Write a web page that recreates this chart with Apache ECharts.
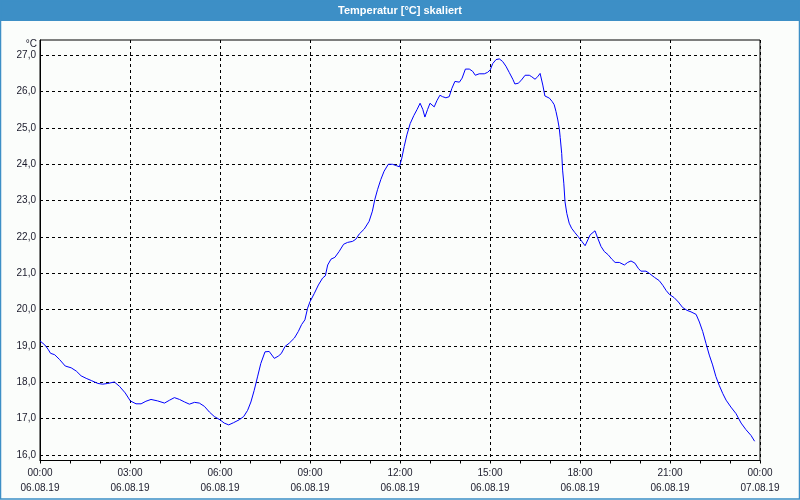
<!DOCTYPE html>
<html>
<head>
<meta charset="utf-8">
<script src="https://cdn.jsdelivr.net/npm/echarts@6/dist/echarts.min.js"></script>
<style>
html,body{margin:0;padding:0;background:#fbfdfb;}
#chart{width:800px;height:500px;}
</style>
</head>
<body>
<div id="chart"></div>
<script>
// Time of day in hours (06.08.19 00:00 = 0)
const hours = [
  0.00,0.16,0.27,0.35,0.49,0.65,0.84,1.04,1.21,1.37,1.54,1.71,1.93,2.09,2.26,2.48,2.65,2.84,
  3.01,3.20,3.37,3.53,3.70,3.92,4.15,4.32,4.48,4.65,4.82,4.98,5.15,5.31,5.48,5.65,5.81,
  6.00,6.14,6.29,6.45,6.64,6.79,6.92,7.03,7.14,7.25,7.36,7.50,7.64,7.81,7.94,8.04,8.17,8.31,8.48,8.61,8.72,8.83,8.92,
  9.00,9.14,9.28,9.42,9.51,9.59,9.70,9.83,9.97,10.12,10.25,10.42,10.53,10.64,10.81,10.97,11.08,11.16,11.25,11.36,11.47,11.61,11.75,11.89,11.98,
  12.06,12.14,12.23,12.34,12.46,12.57,12.67,12.76,12.83,12.92,13.00,13.14,13.23,13.33,13.42,13.53,13.64,13.73,13.83,13.98,14.07,14.18,14.31,14.42,14.51,14.64,14.81,14.92,
  15.01,15.09,15.20,15.31,15.42,15.53,15.64,15.76,15.83,15.94,16.03,16.17,16.31,16.39,16.50,16.59,16.67,16.76,16.83,16.98,17.07,17.14,17.20,17.26,17.31,17.34,17.39,17.42,17.46,17.50,17.56,17.64,17.72,17.83,17.94,
  18.06,18.17,18.26,18.34,18.50,18.59,18.70,18.81,18.94,19.06,19.17,19.31,19.48,19.59,19.70,19.83,19.94,20.03,20.20,20.31,20.48,20.64,20.76,20.87,20.98,
  21.14,21.28,21.42,21.57,21.70,21.87,21.98,22.09,22.20,22.31,22.42,22.53,22.64,22.76,22.87,23.03,23.20,23.37,23.53,23.70,23.82
];
// Temperature in °C
const temps = [
  19.14,19.03,18.91,18.80,18.76,18.63,18.45,18.40,18.31,18.18,18.11,18.05,17.97,17.95,17.97,18.01,17.89,17.71,
  17.49,17.41,17.41,17.48,17.53,17.49,17.43,17.51,17.58,17.53,17.46,17.40,17.45,17.43,17.34,17.18,17.06,
  16.97,16.88,16.83,16.89,16.97,17.06,17.23,17.46,17.78,18.15,18.52,18.84,18.85,18.66,18.72,18.79,18.99,19.08,19.22,19.40,19.59,19.72,20.04,
  20.22,20.44,20.68,20.87,20.93,21.23,21.39,21.44,21.60,21.80,21.85,21.88,21.94,22.08,22.22,22.43,22.71,23.03,23.30,23.58,23.81,24.00,24.00,23.96,23.93,
  24.17,24.49,24.81,25.12,25.34,25.51,25.68,25.51,25.30,25.51,25.68,25.58,25.75,25.90,25.86,25.83,25.86,26.09,26.28,26.26,26.37,26.62,26.62,26.56,26.45,26.49,26.49,26.53,
  26.60,26.77,26.88,26.90,26.83,26.70,26.53,26.34,26.21,26.23,26.30,26.45,26.45,26.41,26.34,26.41,26.50,26.18,25.88,25.82,25.73,25.64,25.45,25.22,24.98,24.74,24.30,23.84,23.48,22.97,22.65,22.38,22.24,22.12,22.01,
  21.88,21.76,21.92,22.06,22.17,21.97,21.74,21.60,21.51,21.39,21.30,21.30,21.23,21.30,21.34,21.28,21.14,21.06,21.06,21.00,20.89,20.80,20.67,20.53,20.42,
  20.33,20.21,20.06,19.98,19.94,19.87,19.66,19.40,19.07,18.75,18.48,18.16,17.92,17.69,17.51,17.32,17.14,16.88,16.70,16.54,16.38
];
// Axis ticks
const xTicks = [0,3,6,9,12,15,18,21,24];
const xTickLabels = [
  '00:00\n06.08.19','03:00\n06.08.19','06:00\n06.08.19','09:00\n06.08.19','12:00\n06.08.19',
  '15:00\n06.08.19','18:00\n06.08.19','21:00\n06.08.19','00:00\n07.08.19'
];
const yTicks = [16,17,18,19,20,21,22,23,24,25,26,27];
const yTickLabels = ['16,0','17,0','18,0','19,0','20,0','21,0','22,0','23,0','24,0','25,0','26,0','27,0'];
const titleText = 'Temperatur [°C] skaliert';
const unitText = '°C';

const chart = echarts.init(document.getElementById('chart'), null, {renderer:'canvas'});
const labelFont = 'Liberation Sans, Arial, sans-serif';
const txtColor = '#1b1b2b';

chart.setOption({
  backgroundColor: '#fbfdfb',
  animation: false,
  graphic: [
    {type:'rect', shape:{x:0,y:0,width:800,height:21}, style:{fill:'#3d8fc6'}, z:10},
    {type:'text', x:400, y:10.5, style:{text:titleText, fill:'#ffffff', font:'bold 11px Liberation Sans, Arial, sans-serif', align:'center', verticalAlign:'middle'}, z:11},
    {type:'rect', shape:{x:0.5,y:0.5,width:799,height:498.5}, style:{fill:null, stroke:'#3d8fc6', lineWidth:1.5}, z:10},
    {type:'text', x:37, y:44.5, style:{text:unitText, fill:txtColor, font:'10px Liberation Sans, Arial, sans-serif', align:'right', verticalAlign:'middle'}, z:11}
  ],
  grid: {left:40, right:40, top:40, bottom:39.5, show:true, borderColor:'#000', borderWidth:1, backgroundColor:'transparent', containLabel:false},
  xAxis: {
    type:'value', min:0, max:24, interval:3,
    axisLine:{show:true, lineStyle:{color:'#000', width:1}},
    axisTick:{show:true, length:3, lineStyle:{color:'#000'}},
    minorTick:{show:true, splitNumber:3, length:3, lineStyle:{color:'#000'}},
    splitLine:{show:true, lineStyle:{color:'#000', type:[3,3], width:1}},
    axisLabel:{
      margin:5, color:txtColor, fontFamily:labelFont, fontSize:10, lineHeight:15,
      formatter: function(v){ const i = xTicks.indexOf(Math.round(v)); return i>=0 ? xTickLabels[i] : ''; }
    }
  },
  yAxis: {
    type:'value', min:15.85, max:27.42,
    axisLine:{show:true, onZero:false, lineStyle:{color:'#000', width:1}},
    axisTick:{show:false},
    splitLine:{show:false},
    axisLabel:{
      customValues: yTicks,
      margin:4, color:txtColor, fontFamily:labelFont, fontSize:10,
      formatter: function(v){ const i = yTicks.indexOf(Math.round(v)); return i>=0 ? yTickLabels[i] : ''; }
    }
  },
  series: [{
    type:'line',
    data: hours.map((h,i)=>[h, temps[i]]),
    showSymbol:false,
    lineStyle:{color:'#0000ff', width:1},
    itemStyle:{color:'#0000ff'},
    z:3,
    markLine:{
      silent:true, symbol:['none','none'], label:{show:false},
      lineStyle:{color:'#000', type:[3,3], width:1},
      animation:false,
      z:2,
      data: yTicks.map(v=>({yAxis:v}))
    }
  }]
});
</script>
</body>
</html>
